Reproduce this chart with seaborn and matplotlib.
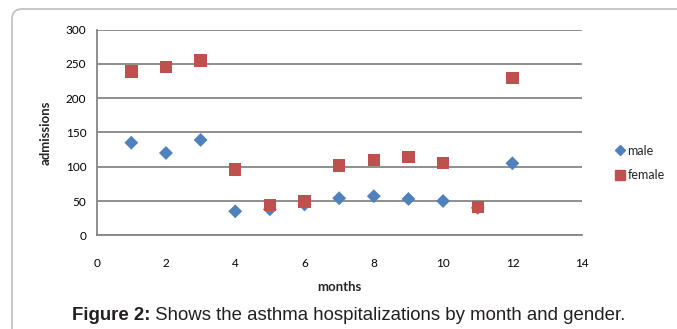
import numpy as np
import pandas as pd
import matplotlib
matplotlib.use("Agg")
import matplotlib.pyplot as plt
import seaborn as sns
from matplotlib.patches import FancyBboxPatch

# Values
months = [1, 2, 3, 4, 5, 6, 7, 8, 9, 10, 11, 12]
male = [135, 120, 139, 35, 38, 45, 54, 57, 53, 50, 40, 105]
female = [239, 245, 255, 96, 44, 49, 102, 110, 114, 105, 41, 229]
x_ticks = [0, 2, 4, 6, 8, 10, 12, 14]
y_ticks = [0, 50, 100, 150, 200, 250, 300]

sns.set_theme(style="white")
plt.rcParams['font.family'] = ['Lato', 'DejaVu Sans']

df = pd.DataFrame({
    "months": months * 2,
    "admissions": male + female,
    "gender": ["male"] * len(months) + ["female"] * len(months),
})

fig = plt.figure(figsize=(6.77, 3.29), dpi=100)

# rounded outer frame (in inches, runs off the right and bottom edges)
frame = FancyBboxPatch((0.12, -1.0), 8.0, 4.2,
                       boxstyle="round,pad=0,rounding_size=0.1",
                       transform=fig.dpi_scale_trans, facecolor="none",
                       edgecolor="#BFBFBF", linewidth=1.2, zorder=-1)
fig.patches.append(frame)

ax = fig.add_axes([0.1428, 0.2848, 0.7164, 0.6255])
ax.set_facecolor("none")

sns.scatterplot(data=df, x="months", y="admissions", hue="gender", style="gender",
                palette={"male": "#4F81BD", "female": "#C0504D"},
                markers={"male": "D", "female": "s"},
                size="gender", sizes={"male": 50, "female": 80},
                linewidth=0, ax=ax, legend=False, zorder=3)

ax.set_xlim(0, 14)
ax.set_ylim(0, 300)
ax.set_xticks(x_ticks)
ax.set_yticks(y_ticks)
ax.yaxis.grid(True, color="#868686", linewidth=1.3)
ax.xaxis.grid(False)
for s in ["top", "right"]:
    ax.spines[s].set_visible(False)
for s in ["left", "bottom"]:
    ax.spines[s].set_color("#868686")
    ax.spines[s].set_linewidth(1.3)
ax.tick_params(axis="both", which="both", direction="out", length=4,
               width=1.3, color="#868686", labelsize=8.5, labelcolor="#000000")
ax.tick_params(axis="x", pad=12)
ax.set_axisbelow(True)

ax.set_xlabel("months", fontsize=9.5, fontweight="bold", labelpad=9)
ax.set_ylabel("admissions", fontsize=9.5, fontweight="bold", labelpad=10)

# legend
handles = [
    plt.Line2D([], [], marker="D", color="#4F81BD", linestyle="none", markersize=5.5),
    plt.Line2D([], [], marker="s", color="#C0504D", linestyle="none", markersize=7),
]
fig.legend(handles, ["male", "female"], loc="center left",
           bbox_to_anchor=(0.89, 0.505), frameon=False, fontsize=9,
           handletextpad=0.1, labelspacing=1.0, handlelength=1.0)

# caption: bold lead-in followed by regular text
cap_font = ["Liberation Sans", "DejaVu Sans"]
t1 = fig.text(72 / 677, 1 - 315 / 329, "Figure 2:", ha="left", va="center",
              fontsize=13.4, fontweight="bold", family=cap_font, color="#231F20")
ax.annotate(" Shows the asthma hospitalizations by month and gender.",
            xy=(1, 0), xycoords=t1, ha="left", va="bottom",
            fontsize=13.4, family=cap_font, color="#231F20", annotation_clip=False)

fig.savefig("out.png", dpi=100)
